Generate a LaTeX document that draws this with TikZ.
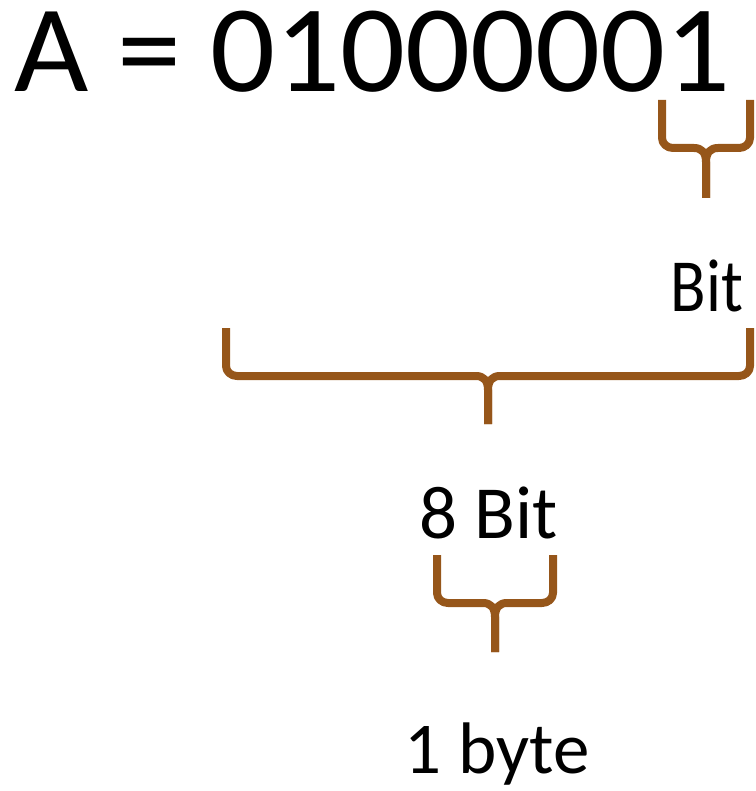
\documentclass[tikz,border=0pt]{standalone}
\usepackage{fontspec}
\setmainfont{Carlito}
\definecolor{bracebrown}{RGB}{150,86,26}
\begin{document}
\begin{tikzpicture}[x=1pt,y=-1pt,
  bracepath/.style={draw=bracebrown,line width=8pt,line join=round,line cap=butt},
  bigtext/.style={inner sep=0pt,font=\fontsize{124}{124}\selectfont},
  lbl/.style={inner sep=0pt,font=\fontsize{75}{75}\selectfont}]
\useasboundingbox (0,0) rectangle (755,791);
\node[bigtext,anchor=base west] (a) at (14,92) {\scalebox{1.035}[1]{A = 01000001}};
% small brace over last bit
\coordinate (b1l) at (662,100);
\coordinate (b1r) at (750,100);
\coordinate (b1t) at (706,198);
\draw[bracepath] (b1l) -- (662,138) to[out=-90,in=180] (673,148) -- (694,148)
  .. controls (702,148) and (706,153) .. (706,162) -- (b1t);
\draw[bracepath] (b1r) -- (750,138) to[out=-90,in=0] (739,148) -- (718,148)
  .. controls (710,148) and (706,153) .. (706,162) -- (b1t);
\node[lbl,anchor=base] (bit) at (707,311) {\scalebox{0.87}[1]{Bit}};
% large brace
\coordinate (b2l) at (226,328);
\coordinate (b2r) at (750,328);
\coordinate (b2t) at (488,424);
\draw[bracepath] (b2l) -- (226,366) to[out=-90,in=180] (237,376) -- (476,376)
  .. controls (484,376) and (488,381) .. (488,390) -- (b2t);
\draw[bracepath] (b2r) -- (750,366) to[out=-90,in=0] (739,376) -- (500,376)
  .. controls (492,376) and (488,381) .. (488,390) -- (b2t);
\node[lbl,anchor=base] (eight) at (489,538) {8 Bit};
% byte brace
\coordinate (b3l) at (437,555);
\coordinate (b3r) at (553,555);
\coordinate (b3t) at (495,652);
\draw[bracepath] (b3l) -- (437,593) to[out=-90,in=180] (448,603) -- (483,603)
  .. controls (491,603) and (495,608) .. (495,617) -- (b3t);
\draw[bracepath] (b3r) -- (553,593) to[out=-90,in=0] (542,603) -- (507,603)
  .. controls (499,603) and (495,608) .. (495,617) -- (b3t);
\node[lbl,anchor=base,font=\fontsize{73}{73}\selectfont] (byte) at (497,773) {1 byte};
\end{tikzpicture}
\end{document}
